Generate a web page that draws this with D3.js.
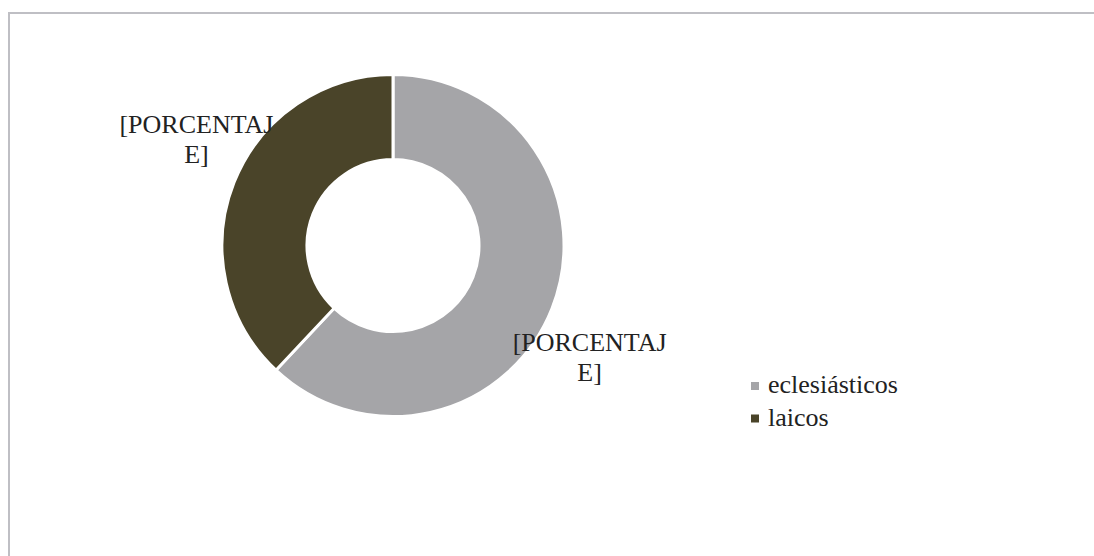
<!DOCTYPE html>
<html>
<head>
<meta charset="utf-8">
<script src="https://cdn.jsdelivr.net/npm/d3@7"></script>
<style>
  html, body { margin: 0; padding: 0; background: #fff; }
  svg { display: block; }
  svg text { font-family: "Liberation Serif", "Times New Roman", Times, "DejaVu Serif", serif; }
</style>
</head>
<body>
<svg id="chart" width="1094" height="556"></svg>
<script>
// Categories, shares (%) and colours of the donut
const categories = ["eclesiásticos", "laicos"];
const values = [62, 38];
const colors = ["#A5A5A8", "#4A4429"];
const labelText = ["[PORCENTAJ", "E]"];

const width = 1094, height = 556;
const svg = d3.select("#chart");

// Chart frame
svg.append("rect")
  .attr("x", 9).attr("y", 13)
  .attr("width", 1100).attr("height", 600)
  .attr("fill", "none")
  .attr("stroke", "#BFBFC4")
  .attr("stroke-width", 2);

const cx = 393, cy = 245.5;
const outerR = 171, innerR = 86;

const pie = d3.pie().sort(null).value(d => d);
const arcs = pie(values);
const arc = d3.arc().innerRadius(innerR).outerRadius(outerR);

const g = svg.append("g").attr("transform", `translate(${cx},${cy})`);

g.selectAll("path.slice")
  .data(arcs)
  .join("path")
  .attr("class", "slice")
  .attr("d", arc)
  .attr("fill", (d, i) => colors[i])
  .attr("stroke", "#fff")
  .attr("stroke-width", 3)
  .attr("stroke-linejoin", "miter");

// Data labels placed outside each slice, along its mid-angle
const labelR = 225, labelShift = 7.5 * Math.PI / 180;
const labels = g.selectAll("text.lbl")
  .data(arcs)
  .join("text")
  .attr("class", "lbl")
  .attr("text-anchor", "middle")
  .attr("font-size", 26)
  .attr("fill", "#222")
  .attr("transform", d => {
    const a = (d.startAngle + d.endAngle) / 2 + labelShift;
    return `translate(${labelR * Math.sin(a)},${-labelR * Math.cos(a) + 1.5})`;
  });
labels.selectAll("tspan")
  .data(labelText)
  .join("tspan")
  .attr("x", 0)
  .attr("dy", (d, i) => i === 0 ? -5 : 30)
  .text(d => d);

// Legend
const legend = svg.append("g").attr("transform", "translate(751,382)");
const item = legend.selectAll("g")
  .data(categories)
  .join("g")
  .attr("transform", (d, i) => `translate(0,${i * 32.5})`);
item.append("rect")
  .attr("width", 8).attr("height", 8)
  .attr("fill", (d, i) => colors[i]);
item.append("text")
  .attr("x", 17).attr("y", 11)
  .attr("font-size", 26)
  .attr("fill", "#222")
  .text(d => d);
</script>
</body>
</html>
